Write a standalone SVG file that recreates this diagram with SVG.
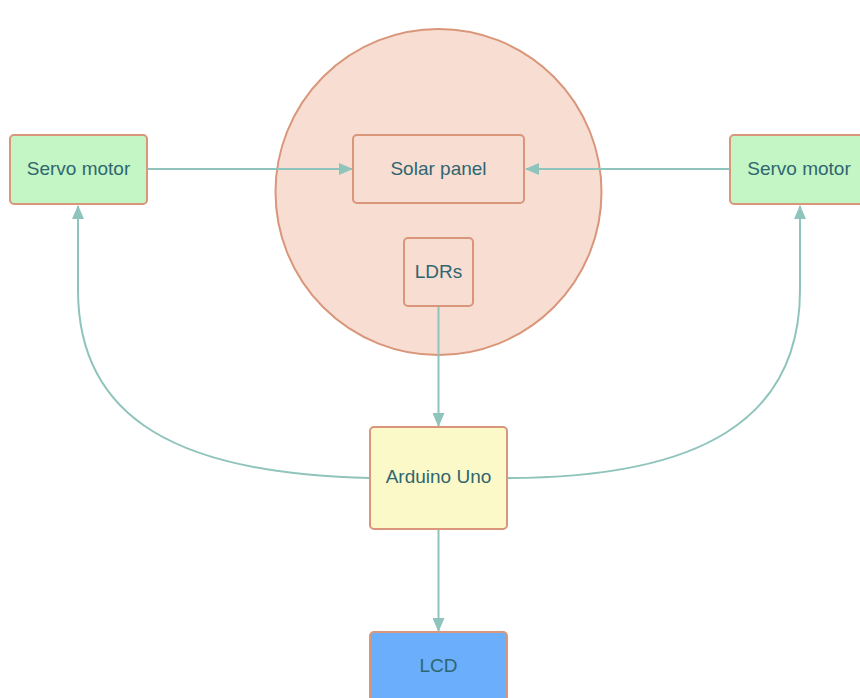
<svg xmlns="http://www.w3.org/2000/svg" width="860" height="698" viewBox="0 0 860 698">
<defs>
<marker id="ah" markerWidth="14" markerHeight="12" refX="13" refY="6" orient="auto" markerUnits="userSpaceOnUse">
<path d="M0,0 L14,6 L0,12 Z" fill="#8fc4bc"/>
</marker>
<style>
.box{stroke:#d9967a;stroke-width:2}
.lbl{font-family:"Liberation Sans",Arial,sans-serif;font-size:19px;fill:#2f6670;text-anchor:middle;dominant-baseline:central}
.edge{fill:none;stroke:#8fc4bc;stroke-width:2}
</style>
</defs>
<rect width="860" height="698" fill="#ffffff"/>
<g id="circle"><circle cx="438.500" cy="192" r="163" fill="#f8ddd3" stroke="#d9967a" stroke-width="2"/></g>
<g id="connectors">
<path class="edge" d="M147,169 L352,169" marker-end="url(#ah)"/>
<path class="edge" d="M730,169 L526,169" marker-end="url(#ah)"/>
<path class="edge" d="M438.500,306 L438.500,426" marker-end="url(#ah)"/>
<path class="edge" d="M438.500,529 L438.500,631" marker-end="url(#ah)"/>
<path class="edge" d="M370,478 C180,474 78,420 78,290 L78,206" marker-end="url(#ah)"/>
<path class="edge" d="M507,478 C700,478 800,420 800,290 L800,206" marker-end="url(#ah)"/>
</g>
<g id="servo-left"><rect class="box" x="10" y="135" width="137" height="69" rx="4" fill="#c4f5c4"/><text class="lbl" x="78.500" y="168">Servo motor</text></g>
<g id="servo-right"><rect class="box" x="730" y="135" width="140" height="69" rx="4" fill="#c4f5c4"/><text class="lbl" x="799" y="168">Servo motor</text></g>
<g id="solar"><rect class="box" x="353" y="135" width="171" height="68" rx="4" fill="#f8ddd3"/><text class="lbl" x="438.500" y="168">Solar panel</text></g>
<g id="ldrs"><rect class="box" x="404" y="238" width="69" height="68" rx="4" fill="#f8ddd3"/><text class="lbl" x="438.500" y="271">LDRs</text></g>
<g id="arduino"><rect class="box" x="370" y="427" width="137" height="102" rx="4" fill="#fbf9c8"/><text class="lbl" x="438.500" y="476">Arduino Uno</text></g>
<g id="lcd"><rect class="box" x="370" y="632" width="137" height="80" rx="4" fill="#6aaefc"/><text class="lbl" x="438.500" y="665">LCD</text></g>
</svg>
